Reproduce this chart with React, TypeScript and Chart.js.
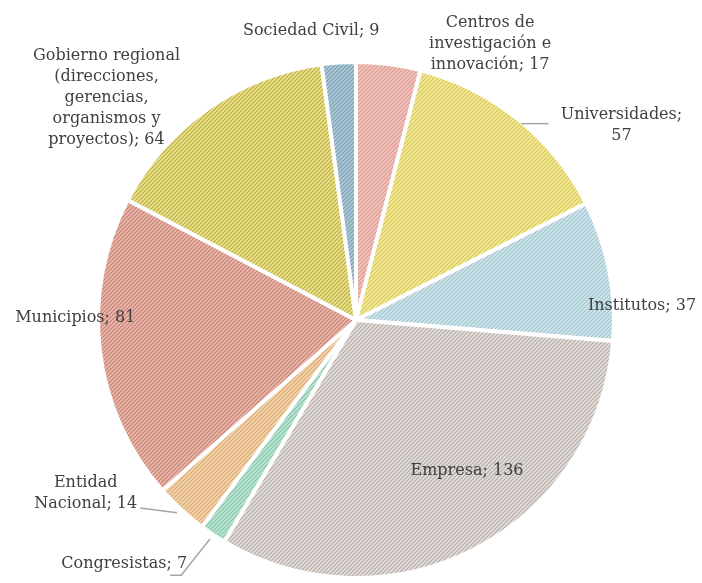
import React, { useEffect, useRef } from "react";
import { Chart, registerables } from "chart.js";

Chart.register(...registerables);

// ---- data ----
const categories = [
  "Centros de investigación e innovación",
  "Universidades",
  "Institutos",
  "Empresa",
  "Congresistas",
  "Entidad Nacional",
  "Municipios",
  "Gobierno regional (direcciones, gerencias, organismos y proyectos)",
  "Sociedad Civil",
];
const values = [17, 57, 37, 136, 7, 14, 81, 64, 9];
// label text split in lines (value appended to the last line, or on its own line)
const labelNameLines = [
  ["Centros de", "investigación e", "innovación"],
  ["Universidades"],
  ["Institutos"],
  ["Empresa"],
  ["Congresistas"],
  ["Entidad", "Nacional"],
  ["Municipios"],
  ["Gobierno regional", "(direcciones,", "gerencias,", "organismos y", "proyectos)"],
  ["Sociedad Civil"],
];
const valueOnOwnLine = [false, true, false, false, false, false, false, false, false];

// ---- styles ----
const baseColors = ["#f7c2ba", "#f7ec94", "#cfe7ee", "#e6e0dd", "#bce8d6", "#f9d6a8", "#f1b7a8", "#eee488", "#b0ccda"];
const stripeColors = ["#d49e98", "#d2c462", "#a2c2cc", "#b2aaa6", "#88c2aa", "#d2a878", "#bc857a", "#b8ac4c", "#7c9cb2"];
// label placement in polar terms relative to the pie (angle in degrees clockwise from top, radius factor)
const labelPlacement = [
  { a: 25.9, r: 1.19 },
  { a: 53.8, r: 1.275 },
  { a: 87.2, r: 1.11 },
  { a: 143.6, r: 0.725 },
  { a: 223.5, r: 1.305 },
  { a: 237.3, r: 1.245 },
  { a: 270.4, r: 1.088 },
  { a: 311.7, r: 1.295 },
  { a: 351.2, r: 1.133 },
];

function makePattern(base: string, stripe: string): CanvasPattern | string {
  const s = 4;
  const c = document.createElement("canvas");
  c.width = s;
  c.height = s;
  const g = c.getContext("2d");
  if (!g) return base;
  g.fillStyle = base;
  g.fillRect(0, 0, s, s);
  g.strokeStyle = stripe;
  g.lineWidth = 1.2;
  g.beginPath();
  g.moveTo(0, s);
  g.lineTo(s, 0);
  g.moveTo(-1, 1);
  g.lineTo(1, -1);
  g.moveTo(s - 1, s + 1);
  g.lineTo(s + 1, s - 1);
  g.stroke();
  const p = g.createPattern(c, "repeat");
  return p || base;
}

function labelLinesFor(i: number): string[] {
  const lines = labelNameLines[i].slice();
  if (valueOnOwnLine[i]) {
    lines[lines.length - 1] = lines[lines.length - 1] + ";";
    lines.push(String(values[i]));
  } else {
    lines[lines.length - 1] = lines[lines.length - 1] + "; " + values[i];
  }
  return lines;
}

const FONT = '16px "DejaVu Serif"';
const LINE_H = 21;

const labelPlugin = {
  id: "pieLabels",
  afterDatasetsDraw(chart: any) {
    const meta = chart.getDatasetMeta(0);
    if (!meta || !meta.data.length) return;
    const arc = meta.data[0];
    const cx = arc.x;
    const cy = arc.y;
    const R = arc.outerRadius;
    const ctx = chart.ctx as CanvasRenderingContext2D;
    const polar = (deg: number, rf: number) => {
      const t = (deg * Math.PI) / 180;
      return { x: cx + R * rf * Math.sin(t), y: cy - R * rf * Math.cos(t) };
    };
    ctx.save();
    ctx.font = FONT;
    ctx.textAlign = "center";
    ctx.textBaseline = "middle";
    const boxes: { left: number; right: number; lastY: number; lastRight: number }[] = [];
    for (let i = 0; i < values.length; i++) {
      const lines = labelLinesFor(i);
      const p = polar(labelPlacement[i].a, labelPlacement[i].r);
      const y0 = p.y - ((lines.length - 1) * LINE_H) / 2;
      let left = Infinity;
      let right = -Infinity;
      let lastRight = 0;
      ctx.fillStyle = "#404040";
      lines.forEach((ln, k) => {
        const w = ctx.measureText(ln).width;
        left = Math.min(left, p.x - w / 2);
        right = Math.max(right, p.x + w / 2);
        lastRight = p.x + w / 2;
        ctx.fillText(ln, p.x, y0 + k * LINE_H);
      });
      boxes.push({ left, right, lastY: y0 + (lines.length - 1) * LINE_H, lastRight });
    }
    // leader lines
    ctx.strokeStyle = "#a6a6a6";
    ctx.lineWidth = 1.5;
    // Universidades
    {
      const e = polar(40.1, 0.995);
      const b = boxes[1];
      ctx.beginPath();
      ctx.moveTo(e.x, e.y);
      ctx.lineTo(b.left - 12, e.y);
      ctx.stroke();
    }
    // Entidad Nacional
    {
      const e = polar(222.9, 1.02);
      const b = boxes[5];
      ctx.beginPath();
      ctx.moveTo(b.lastRight + 3, b.lastY + 4);
      ctx.lineTo(e.x, e.y);
      ctx.stroke();
    }
    // Congresistas
    {
      const e = polar(213.7, 1.02);
      const b = boxes[4];
      const yb = b.lastY + 11;
      ctx.beginPath();
      ctx.moveTo(b.lastRight - 17, yb);
      ctx.lineTo(b.lastRight - 6, yb);
      ctx.lineTo(e.x, e.y);
      ctx.stroke();
    }
    ctx.restore();
  },
};

export default function App() {
  const ref = useRef<HTMLCanvasElement | null>(null);
  useEffect(() => {
    if (!ref.current) return;
    const patterns = baseColors.map((b, i) => makePattern(b, stripeColors[i]));
    const chart = new Chart(ref.current, {
      type: "pie",
      data: {
        labels: categories,
        datasets: [
          {
            data: values,
            backgroundColor: patterns as any,
            borderColor: "#ffffff",
            borderWidth: 4,
          },
        ],
      },
      options: {
        responsive: false,
        maintainAspectRatio: false,
        animation: false,
        rotation: 0,
        layout: { padding: { left: 96, right: 86, top: 60, bottom: 3 } },
        plugins: {
          legend: { display: false },
          tooltip: { enabled: false },
        },
      },
      plugins: [labelPlugin],
    });
    return () => chart.destroy();
  }, []);
  return (
    <div style={{ position: "absolute", left: 0, top: 0, width: 702, height: 583, background: "#ffffff" }}>
      <canvas ref={ref} width={702} height={583} style={{ display: "block" }} />
    </div>
  );
}
